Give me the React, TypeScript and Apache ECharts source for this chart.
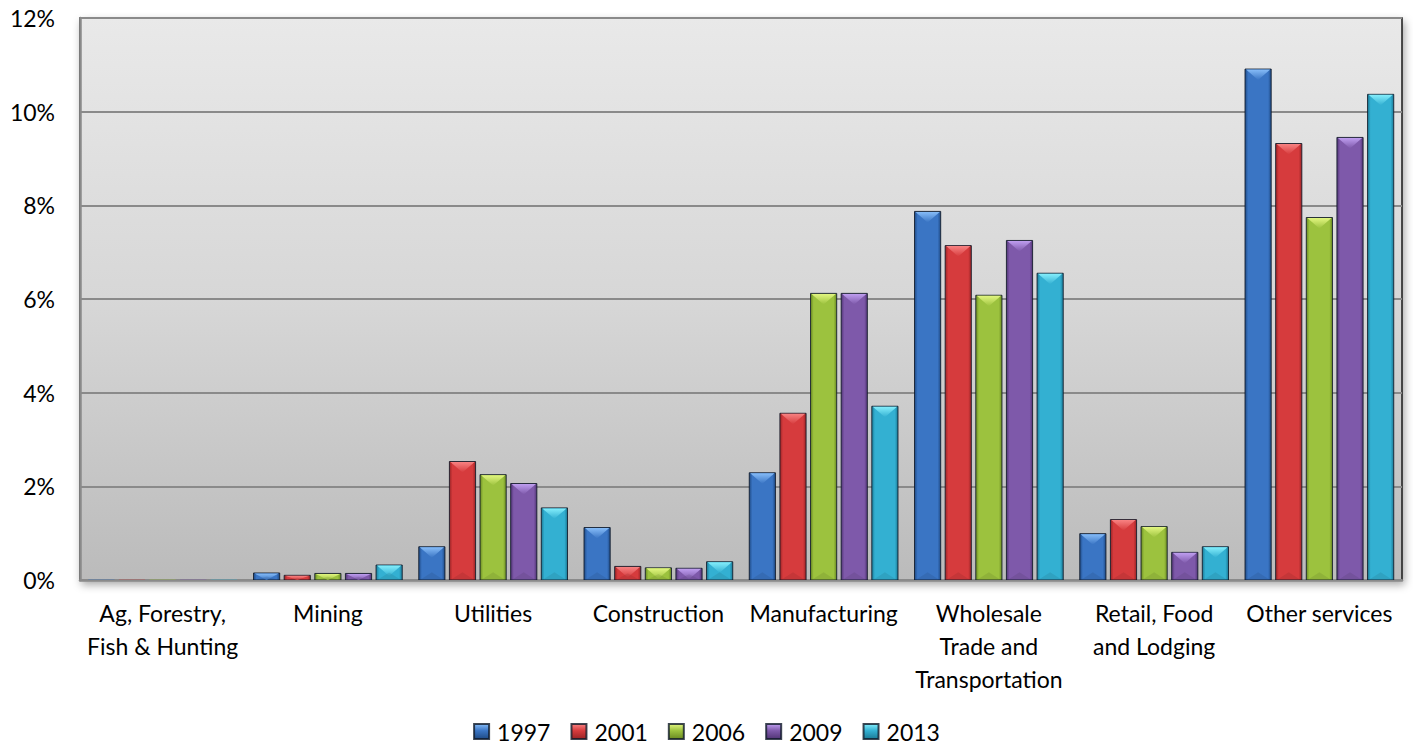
import React, { useEffect, useRef } from "react";
import * as echarts from "echarts";

const categories = [
  "Ag, Forestry,\nFish & Hunting",
  "Mining",
  "Utilities",
  "Construction",
  "Manufacturing",
  "Wholesale\nTrade and\nTransportation",
  "Retail, Food\nand Lodging",
  "Other services",
];

const years = ["1997", "2001", "2006", "2009", "2013"];

// Share of total, in percent
const values1997 = [0.01, 0.15, 0.71, 1.12, 2.29, 7.87, 0.99, 10.91];
const values2001 = [0.01, 0.1, 2.53, 0.29, 3.56, 7.14, 1.29, 9.32];
const values2006 = [0.01, 0.14, 2.25, 0.26, 6.12, 6.08, 1.14, 7.74];
const values2009 = [0.005, 0.14, 2.06, 0.25, 6.12, 7.25, 0.59, 9.45];
const values2013 = [0.005, 0.32, 1.54, 0.39, 3.71, 6.55, 0.71, 10.37];

const seriesValues = [values1997, values2001, values2006, values2009, values2013];

const yTicks = { min: 0, max: 12, interval: 2 };

// base, dark edge, light top facet
const palette = [
  { base: "#3a75c4", dark: "#1f4b86", light: "#86bcf8" },
  { base: "#d63b3d", dark: "#9a2426", light: "#f88282" },
  { base: "#9cc23e", dark: "#6a8a22", light: "#e2f680" },
  { base: "#7e59aa", dark: "#523576", light: "#bf9ef0" },
  { base: "#33b0d2", dark: "#1b7a96", light: "#84eefc" },
];

const FONT = "Lato, 'Open Sans', sans-serif";
const CAT_GAP = 0.1;
const BAR_GAP = 0.17;
const N = years.length;

function makeRender(si: number) {
  const c = palette[si];
  return (params: any, api: any) => {
    const cat = api.value(0);
    const v = api.value(1);
    const base = api.coord([cat, 0]);
    const top = api.coord([cat, v]);
    const band = api.size([1, 0])[0];
    const gap = band * CAT_GAP;
    const w = (band - gap) / (N + (N - 1) * BAR_GAP);
    const pitch = w * (1 + BAR_GAP);
    const x0 = base[0] - band / 2 + gap / 2 + si * pitch;
    const h = Math.max(base[1] - top[1], 0.6);
    const y0 = base[1] - h;
    const tiny = h < 2;
    const bev = Math.min(w * 0.42, h);
    const bevB = Math.min(w * 0.3, h / 2);
    const bodyFill = new echarts.graphic.LinearGradient(0, 0, 1, 0, [
      { offset: 0, color: c.dark },
      { offset: 0.12, color: c.base },
      { offset: 0.5, color: c.base },
      { offset: 0.88, color: c.base },
      { offset: 1, color: c.dark },
    ]);
    return {
      type: "group",
      children: [
        {
          type: "rect",
          shape: { x: x0, y: y0, width: w, height: h },
          style: tiny
            ? { fill: c.base, opacity: 0.5 }
            : { fill: bodyFill, stroke: "rgba(15,25,40,0.85)", lineWidth: 1 },
        },
        {
          type: "polygon",
          invisible: tiny,
          shape: {
            points: [
              [x0 + 1, y0 + 0.5],
              [x0 + w - 1, y0 + 0.5],
              [x0 + w / 2, y0 + bev],
            ],
          },
          style: {
            fill: new echarts.graphic.LinearGradient(0, 0, 0, 1, [
              { offset: 0, color: c.light },
              { offset: 1, color: c.base },
            ]),
          },
        },
        {
          type: "polygon",
          invisible: tiny,
          shape: {
            points: [
              [x0 + 1, base[1]],
              [x0 + w - 1, base[1]],
              [x0 + w / 2, base[1] - bevB],
            ],
          },
          style: { fill: "rgba(0,0,0,0.08)" },
        },
      ],
    };
  };
}

export default function App() {
  const ref = useRef<HTMLDivElement>(null);

  useEffect(() => {
    if (!ref.current) return;
    document.body.style.margin = "0";
    const chart = echarts.init(ref.current, null, { renderer: "svg" });

    const series = years.map((y, si) => ({
      name: y,
      type: "custom",
      renderItem: makeRender(si),
      encode: { x: 0, y: 1 },
      data: seriesValues[si].map((v, i) => [i, v]),
      itemStyle: {
        color: new echarts.graphic.LinearGradient(0, 0, 0, 1, [
          { offset: 0, color: palette[si].light },
          { offset: 0.45, color: palette[si].base },
          { offset: 1, color: palette[si].dark },
        ]),
        borderColor: "rgba(15,25,40,0.8)",
        borderWidth: 1,
      },
      clip: true,
      z: 3,
    }));

    chart.setOption({
      animation: false,
      textStyle: { fontFamily: FONT },
      grid: {
        left: 80,
        right: 11,
        top: 18,
        bottom: 168,
        show: true,
        borderColor: "#1a1a1a",
        borderWidth: 1.5,
        backgroundColor: new echarts.graphic.LinearGradient(0, 0, 0, 1, [
          { offset: 0, color: "#e9e9e9" },
          { offset: 0.5, color: "#d7d7d7" },
          { offset: 1, color: "#bbbbbb" },
        ]),
        shadowColor: "rgba(0,0,0,0.35)",
        shadowBlur: 8,
        shadowOffsetX: 2,
        shadowOffsetY: 4,
      },
      legend: {
        bottom: 0,
        left: "center",
        itemWidth: 15,
        itemHeight: 15,
        itemGap: 20,
        icon: "rect",
        textStyle: { fontSize: 23, color: "#000", fontFamily: FONT, padding: [0, 0, 0, 3] },
        data: years,
      },
      xAxis: {
        type: "category",
        data: categories,
        axisLine: { show: true, lineStyle: { color: "#8a8a8a", width: 2.5 } },
        axisTick: { show: false },
        splitLine: { show: false },
        axisLabel: {
          interval: 0,
          fontSize: 23,
          lineHeight: 33,
          margin: 16,
          color: "#000",
          fontFamily: FONT,
        },
      },
      yAxis: {
        type: "value",
        min: yTicks.min,
        max: yTicks.max,
        interval: yTicks.interval,
        axisLine: { show: true, lineStyle: { color: "#8a8a8a", width: 2.5 } },
        axisTick: { show: false },
        splitLine: { show: true, lineStyle: { color: "#8a8a8a", width: 2 } },
        axisLabel: {
          formatter: "{value}%",
          fontSize: 23,
          margin: 25,
          color: "#000",
          fontFamily: FONT,
        },
      },
      series,
    });

    return () => chart.dispose();
  }, []);

  return (
    <div
      ref={ref}
      style={{ position: "absolute", left: 0, top: 0, width: 1413, height: 748 }}
    />
  );
}
